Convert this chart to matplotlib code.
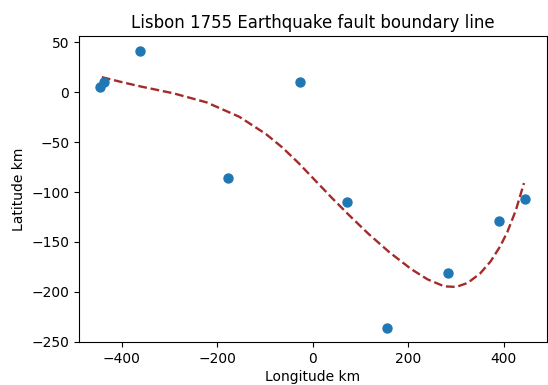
import matplotlib
matplotlib.use("Agg")
import matplotlib.pyplot as plt

# epicentre points, km from reference
lon_km = [-445, -437, -362, -28, -178, 71, 155, 282, 389, 445]
lat_km = [5, 10, 41, 10, -86, -110, -236, -181, -129, -107]

# fault line
fault_lon = [-442, -400, -361, -292, -223, -154, -98, -64, -30, 6, 40, 75,
             116, 160, 206, 240, 275, 300, 324, 350, 372, 392, 407, 425, 442]
fault_lat = [15, 10, 5.7, -1.2, -10.2, -24.7, -42.1, -55.4, -71, -89, -106, -122.8,
             -141.7, -160.2, -177.2, -187.4, -194.4, -195, -191, -181.6, -169.5,
             -154.5, -140.2, -118.2, -91]

fig = plt.figure(figsize=(5.48, 3.85), dpi=100)
ax = fig.add_axes([0.144, 0.112, 0.854, 0.794])

ax.scatter(lon_km, lat_km, s=42, color='tab:blue', zorder=3)
ax.plot(fault_lon, fault_lat, '--', color='brown', linewidth=1.7)

ax.set_xlim(-490, 490)
ax.set_ylim(-250, 56)
ax.set_xticks([-400, -200, 0, 200, 400])
ax.set_yticks([50, 0, -50, -100, -150, -200, -250])
ax.tick_params(labelsize=10)

ax.set_title('Lisbon 1755 Earthquake fault boundary line', fontsize=12)
ax.set_xlabel('Longitude km', fontsize=10, labelpad=3)
ax.set_ylabel('Latitude km', fontsize=10)

fig.savefig('out.png', dpi=100)
